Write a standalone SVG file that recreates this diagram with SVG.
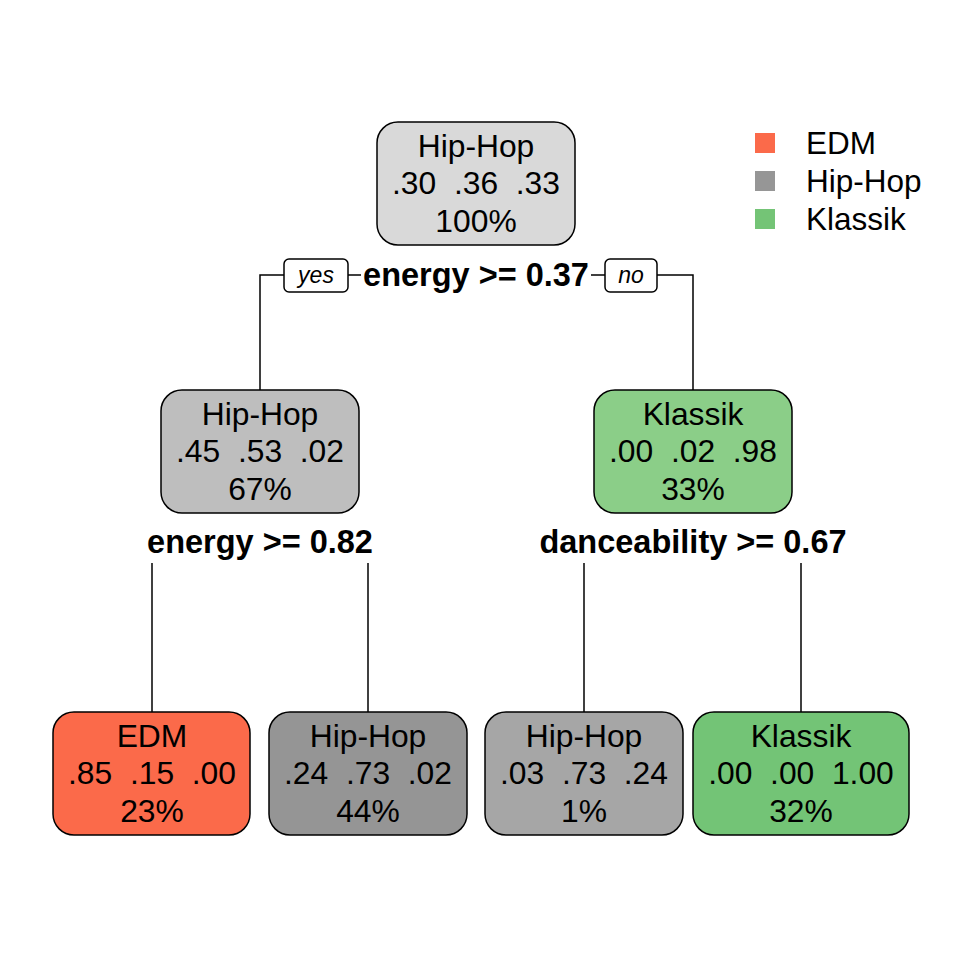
<svg xmlns="http://www.w3.org/2000/svg" width="960" height="960" viewBox="0 0 960 960">
<style>
.box{stroke:#000;stroke-width:1.5}
.t{font-family:"Liberation Sans",Arial,sans-serif;font-size:31.8px;text-anchor:middle;fill:#000;white-space:pre}
.s{font-family:"Liberation Sans",Arial,sans-serif;font-size:32.5px;font-weight:bold;text-anchor:middle;fill:#000}
.yn{font-family:"Liberation Sans",Arial,sans-serif;font-size:23px;font-style:italic;text-anchor:middle;fill:#000}
.lg{font-family:"Liberation Sans",Arial,sans-serif;font-size:31.5px;fill:#000}
.c{fill:none;stroke:#000;stroke-width:1.5}
</style>
<rect width="960" height="960" fill="#fff"/>
<g id="connectors">
<path class="c" d="M260,390 V275 H284"/>
<path class="c" d="M348,275 H361"/>
<path class="c" d="M591,275 H605"/>
<path class="c" d="M657,275 H693 V390"/>
<path class="c" d="M152,563 V712"/>
<path class="c" d="M368,563 V712"/>
<path class="c" d="M584,563 V712"/>
<path class="c" d="M801,563 V712"/>
<rect class="c" x="284" y="259" width="64" height="33" rx="5" fill="#fff"/>
<text class="yn" x="316" y="283">yes</text>
<rect class="c" x="605" y="259" width="52" height="33" rx="5" fill="#fff"/>
<text class="yn" x="631" y="283">no</text>
<text class="s" x="476" y="286">energy &gt;= 0.37</text>
<text class="s" x="260" y="553">energy &gt;= 0.82</text>
<text class="s" x="693" y="553">danceability &gt;= 0.67</text>
</g>
<g id="node-root">
<rect class="box" x="377" y="122" width="198" height="123" rx="21" fill="#D9D9D9"/>
<text class="t" x="476" y="157">Hip-Hop</text>
<text class="t" x="476" y="194">.30  .36  .33</text>
<text class="t" x="476" y="232">100%</text>
</g>
<g id="node-left">
<rect class="box" x="161" y="390" width="198" height="123" rx="21" fill="#BEBEBE"/>
<text class="t" x="260" y="425">Hip-Hop</text>
<text class="t" x="260" y="462">.45  .53  .02</text>
<text class="t" x="260" y="500">67%</text>
</g>
<g id="node-right">
<rect class="box" x="594" y="390" width="198" height="123" rx="21" fill="#8BCE88"/>
<text class="t" x="693" y="425">Klassik</text>
<text class="t" x="693" y="462">.00  .02  .98</text>
<text class="t" x="693" y="500">33%</text>
</g>
<g id="leaf-edm">
<rect class="box" x="53" y="712" width="197" height="123" rx="21" fill="#FB6A4A"/>
<text class="t" x="152" y="747">EDM</text>
<text class="t" x="152" y="784">.85  .15  .00</text>
<text class="t" x="152" y="822">23%</text>
</g>
<g id="leaf-hiphop1">
<rect class="box" x="269" y="712" width="198" height="123" rx="21" fill="#959595"/>
<text class="t" x="368" y="747">Hip-Hop</text>
<text class="t" x="368" y="784">.24  .73  .02</text>
<text class="t" x="368" y="822">44%</text>
</g>
<g id="leaf-hiphop2">
<rect class="box" x="485" y="712" width="198" height="123" rx="21" fill="#A6A6A6"/>
<text class="t" x="584" y="747">Hip-Hop</text>
<text class="t" x="584" y="784">.03  .73  .24</text>
<text class="t" x="584" y="822">1%</text>
</g>
<g id="leaf-klassik">
<rect class="box" x="693" y="712" width="216" height="123" rx="21" fill="#73C476"/>
<text class="t" x="801" y="747">Klassik</text>
<text class="t" x="801" y="784">.00  .00  1.00</text>
<text class="t" x="801" y="822">32%</text>
</g>
<g id="legend">
<rect x="755" y="133" width="20" height="20" fill="#FB6A4A"/>
<rect x="755" y="171" width="20" height="20" fill="#969696"/>
<rect x="755" y="209" width="20" height="20" fill="#74C476"/>
<text class="lg" x="806" y="154">EDM</text>
<text class="lg" x="806" y="192">Hip-Hop</text>
<text class="lg" x="806" y="230">Klassik</text>
</g>
</svg>
